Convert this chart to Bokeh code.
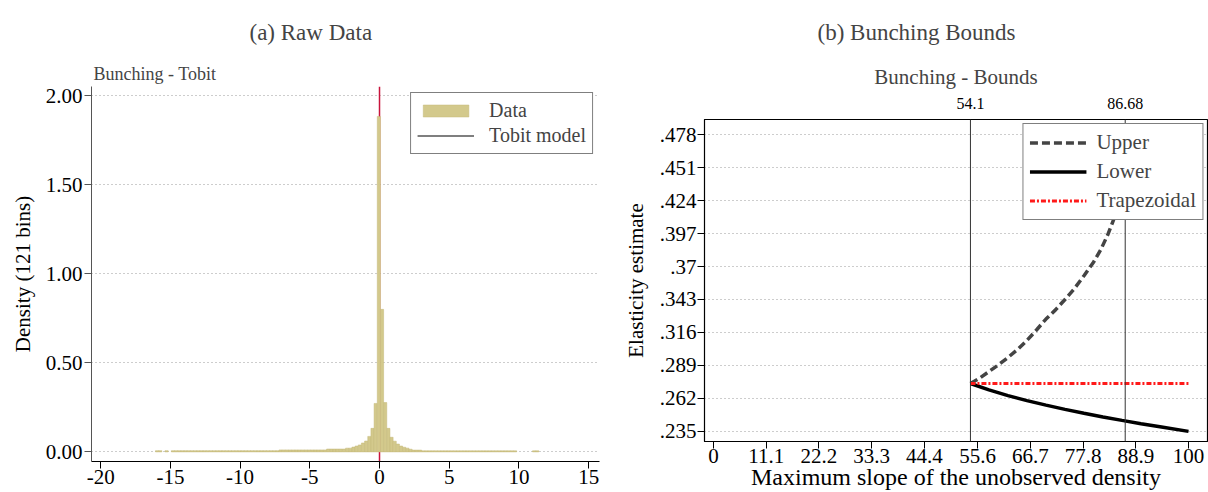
import numpy as np
from bokeh.plotting import figure
from bokeh.layouts import row, column
from bokeh.models import Range1d, FixedTicker, LinearAxis, Title, Span, Legend
from bokeh.embed import file_html
from bokeh.resources import INLINE

FONT = "Liberation Serif"

# ---------------- Panel (a): raw data histogram ----------------
hist_range = [-16.07, 11.43]          # histogram span, 121 bins
density = [
    0.007, 0.007, 0.0, 0.007, 0.0, 0.007, 0.007, 0.007, 0.007, 0.007,
    0.007, 0.007, 0.007, 0.007, 0.007, 0.007, 0.007, 0.007, 0.007, 0.007,
    0.007, 0.007, 0.007, 0.007, 0.007, 0.007, 0.007, 0.007, 0.007, 0.007,
    0.007, 0.007, 0.007, 0.007, 0.007, 0.007, 0.007, 0.007, 0.007, 0.011,
    0.011, 0.011, 0.011, 0.011, 0.011, 0.011, 0.011, 0.011, 0.011, 0.011,
    0.011, 0.011, 0.011, 0.011, 0.016, 0.016, 0.016, 0.016, 0.016, 0.016,
    0.021, 0.021, 0.027, 0.033, 0.039, 0.050, 0.061, 0.087, 0.132, 0.272,
    1.883, 0.800, 0.277, 0.132, 0.082, 0.060, 0.044, 0.033, 0.026, 0.021,
    0.015, 0.010, 0.010, 0.010, 0.006, 0.006, 0.006, 0.006, 0.006, 0.006,
    0.006, 0.006, 0.006, 0.006, 0.006, 0.006, 0.006, 0.006, 0.006, 0.006,
    0.006, 0.006, 0.006, 0.006, 0.006, 0.006, 0.006, 0.006, 0.006, 0.006,
    0.006, 0.006, 0.006, 0.006, 0.0, 0.0, 0.0, 0.0, 0.0, 0.006,
    0.006,
]
cutoff = 0.0
tobit_x = [np.nan]
tobit_y = [np.nan]
hist_x_ticks = [-20, -15, -10, -5, 0, 5, 10, 15]
hist_x_labels = ["-20", "-15", "-10", "-5", "0", "5", "10", "15"]
hist_y_ticks = [0.0, 0.5, 1.0, 1.5, 2.0]
hist_y_labels = ["0.00", "0.50", "1.00", "1.50", "2.00"]

# ---------------- Panel (b): bunching bounds ----------------
upper_x = [54.1, 56, 58, 60, 62, 64, 66, 68, 70, 72, 74, 76, 78, 80, 81.5, 83, 84, 85, 86, 86.68]
upper_y = [0.2742, 0.2785, 0.284, 0.2895, 0.2955, 0.302, 0.3095, 0.318, 0.327, 0.3345,
           0.343, 0.352, 0.3625, 0.3735, 0.3835, 0.396, 0.406, 0.416, 0.432, 0.450]
lower_x = [54.1, 58, 62, 66, 70, 74, 78, 82, 86, 90, 94, 100]
lower_y = [0.2742, 0.2690, 0.2643, 0.2602, 0.2565, 0.2530, 0.2498, 0.2468, 0.2440, 0.2413, 0.2388, 0.2350]
trap_x = [54.1, 100]
trap_y = [0.2742, 0.2742]
bound_lines = [54.1, 86.68]
bound_labels = ["54.1", "86.68"]
b_x_ticks = [0, 11.1, 22.2, 33.3, 44.4, 55.6, 66.7, 77.8, 88.9, 100]
b_x_labels = ["0", "11.1", "22.2", "33.3", "44.4", "55.6", "66.7", "77.8", "88.9", "100"]
b_y_ticks = [0.235, 0.262, 0.289, 0.316, 0.343, 0.37, 0.397, 0.424, 0.451, 0.478]
b_y_labels = [".235", ".262", ".289", ".316", ".343", ".37", ".397", ".424", ".451", ".478"]


def style_axis(ax, size="21px"):
    ax.major_label_text_font = FONT
    ax.major_label_text_font_size = size
    ax.major_label_text_color = "black"
    ax.axis_label_text_font = FONT
    ax.axis_label_text_font_style = "normal"
    ax.axis_label_text_color = "black"
    ax.minor_tick_line_color = None


# ---------- figure (a) ----------
p1 = figure(width=620, height=492, title=None,
            x_range=Range1d(-20.66, 15.78), y_range=Range1d(-0.054, 2.051),
            output_backend="svg", toolbar_location=None,
            min_border_left=91, min_border_right=21, min_border_top=86, min_border_bottom=31)
p1.outline_line_color = None
p1.background_fill_color = "white"
p1.xgrid.visible = False
p1.ygrid.grid_line_color = "#9a9a9a"
p1.ygrid.grid_line_dash = "1 3"
p1.ygrid.grid_line_width = 1

edges = np.linspace(hist_range[0], hist_range[1], len(density) + 1)
dens = np.array(density)
mask = dens > 0
p1.add_layout(Span(location=cutoff, dimension="height", line_color="#c8143c",
                   line_width=1.5, level="underlay"))
r_data = p1.quad(left=edges[:-1][mask], right=edges[1:][mask], bottom=0, top=dens[mask],
                 fill_color="#d3c98c", line_color="#c4b878", line_width=0.5)
r_tobit = p1.line(x=tobit_x, y=tobit_y, line_color="black", line_width=1.2)

p1.xaxis.ticker = FixedTicker(ticks=hist_x_ticks)
p1.xaxis.major_label_overrides = dict(zip(hist_x_ticks, hist_x_labels))
p1.yaxis.ticker = FixedTicker(ticks=hist_y_ticks)
p1.yaxis.major_label_overrides = dict(zip(hist_y_ticks, hist_y_labels))
p1.yaxis.axis_label = "Density (121 bins)"
for ax in (p1.xaxis[0], p1.yaxis[0]):
    style_axis(ax)
    ax.major_tick_out = 7
    ax.major_tick_in = 0
    ax.major_label_standoff = 2
p1.xaxis.major_label_standoff = 1
p1.yaxis.axis_label_text_font_size = "21px"
p1.yaxis.axis_label_standoff = 8
p1.yaxis.axis_line_color = "#555555"
p1.yaxis.major_tick_line_color = "#555555"
p1.xaxis.axis_line_color = "black"

leg1 = Legend(items=[("Data", [r_data]), ("Tobit model", [r_tobit])],
              location="top_right", margin=6, padding=6, spacing=2,
              glyph_width=57, glyph_height=15, label_standoff=15,
              label_text_font=FONT, label_text_font_size="20px",
              border_line_color="black", border_line_width=1,
              background_fill_color="white", background_fill_alpha=1)
p1.add_layout(leg1)

p1.add_layout(Title(text="Bunching - Tobit", align="left", offset=2, standoff=6,
                    text_font=FONT, text_font_size="18px", text_font_style="normal"), "above")
p1.add_layout(Title(text="(a) Raw Data", align="left", offset=158, standoff=28,
                    text_font=FONT, text_font_size="23px", text_font_style="normal"), "above")

# ---------- figure (b) ----------
p2 = figure(width=588, height=492, title=None,
            x_range=Range1d(-1.88, 104.0), y_range=Range1d(0.2267, 0.4904),
            output_backend="svg", toolbar_location=None,
            min_border_left=81, min_border_right=1, min_border_top=119, min_border_bottom=0)
p2.outline_line_color = "black"
p2.outline_line_width = 1.2
p2.xgrid.visible = False
p2.ygrid.grid_line_color = "#9a9a9a"
p2.ygrid.grid_line_dash = "1 3"
p2.ygrid.grid_line_width = 1

for v in bound_lines:
    p2.add_layout(Span(location=v, dimension="height", line_color="#333333", line_width=1))

r_up = p2.line(upper_x, upper_y, line_color="#444444", line_width=3.5, line_dash="8 4")
r_low = p2.line(lower_x, lower_y, line_color="black", line_width=3.5)
r_trap = p2.line(trap_x, trap_y, line_color="#ff1a1a", line_width=3, line_dash="5 2 2 2")

p2.xaxis.ticker = FixedTicker(ticks=b_x_ticks)
p2.xaxis.major_label_overrides = dict(zip(b_x_ticks, b_x_labels))
p2.yaxis.ticker = FixedTicker(ticks=b_y_ticks)
p2.yaxis.major_label_overrides = dict(zip(b_y_ticks, b_y_labels))
p2.xaxis.axis_label = "Maximum slope of the unobserved density"
p2.yaxis.axis_label = "Elasticity estimate"
for ax in (p2.xaxis[0], p2.yaxis[0]):
    style_axis(ax)
    ax.major_tick_out = 7
    ax.major_tick_in = 0
    ax.major_label_standoff = 1
    ax.axis_line_color = "black"
p2.xaxis.major_label_standoff = 0
p2.xaxis.axis_label_text_font_size = "24px"
p2.xaxis.axis_label_standoff = -2
p2.yaxis.axis_label_text_font_size = "21px"
p2.yaxis.axis_label_standoff = 9

top_axis = LinearAxis(ticker=FixedTicker(ticks=bound_lines),
                      major_label_overrides=dict(zip(bound_lines, bound_labels)),
                      axis_line_color=None, major_tick_line_color=None,
                      minor_tick_line_color=None, major_tick_out=0, major_tick_in=0,
                      major_label_standoff=11, major_label_text_font=FONT,
                      major_label_text_font_size="16px", major_label_text_color="black")
p2.add_layout(top_axis, "above")

leg2 = Legend(items=[("Upper", [r_up]), ("Lower", [r_low]), ("Trapezoidal", [r_trap])],
              location="top_right", margin=4, padding=6, spacing=4,
              glyph_width=57, glyph_height=15, label_standoff=10,
              label_text_font=FONT, label_text_font_size="21px",
              border_line_color="black", border_line_width=1,
              background_fill_color="white", background_fill_alpha=1)
p2.add_layout(leg2)

p2.add_layout(Title(text="Bunching - Bounds", align="center", standoff=11,
                    text_font=FONT, text_font_size="21px", text_font_style="normal"), "above")
p2.add_layout(Title(text="(b) Bunching Bounds", align="left", offset=113, standoff=26,
                    text_font=FONT, text_font_size="23px", text_font_style="normal"), "above")

layout = row(column(p1), column(p2))
open("out.html", "w").write(file_html(layout, INLINE))
